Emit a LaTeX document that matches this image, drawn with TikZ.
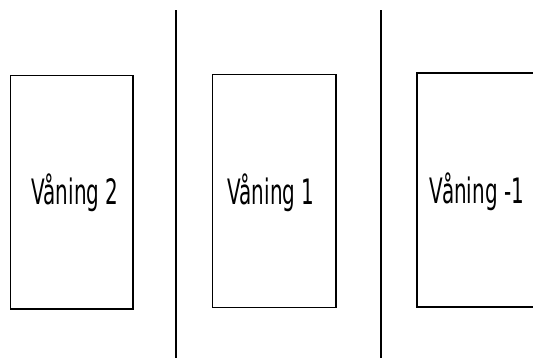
\documentclass[tikz,border=0pt]{standalone}
\usepackage{fontspec}
\newfontfamily\cadfont[FakeStretch=0.57]{DejaVu Sans}

\begin{document}
\begin{tikzpicture}[x=1pt, y=-1pt]
\tikzset{
  wall/.style={line width=2pt},
  room/.style={line width=1.4pt},
  roomname/.style={anchor=base, inner sep=0pt, font=\cadfont\fontsize{35}{35}\selectfont}
}
\useasboundingbox (0,0) rectangle (533,358);
\clip (0,0) rectangle (533,358);
% walls
\coordinate (w1top) at (175.5,10.5);
\coordinate (w1bot) at (175.5,358);
\coordinate (w2top) at (380.5,10.5);
\coordinate (w2bot) at (380.5,358);
\draw[wall] (w1top) -- (w1bot);
\draw[wall] (w2top) -- (w2bot);
% rooms
\draw[room] (10.5,75.5) rectangle (133,309);
\draw[room] (212.5,74.5) rectangle (336,307.5);
\draw[room] (417,73) rectangle (545,307);
\node[roomname] (v2) at (75,205) {Våning 2};
\node[roomname] (v1) at (271,205) {Våning 1};
\node[roomname] (vm1) at (477,204) {Våning -1};
\end{tikzpicture}
\end{document}
